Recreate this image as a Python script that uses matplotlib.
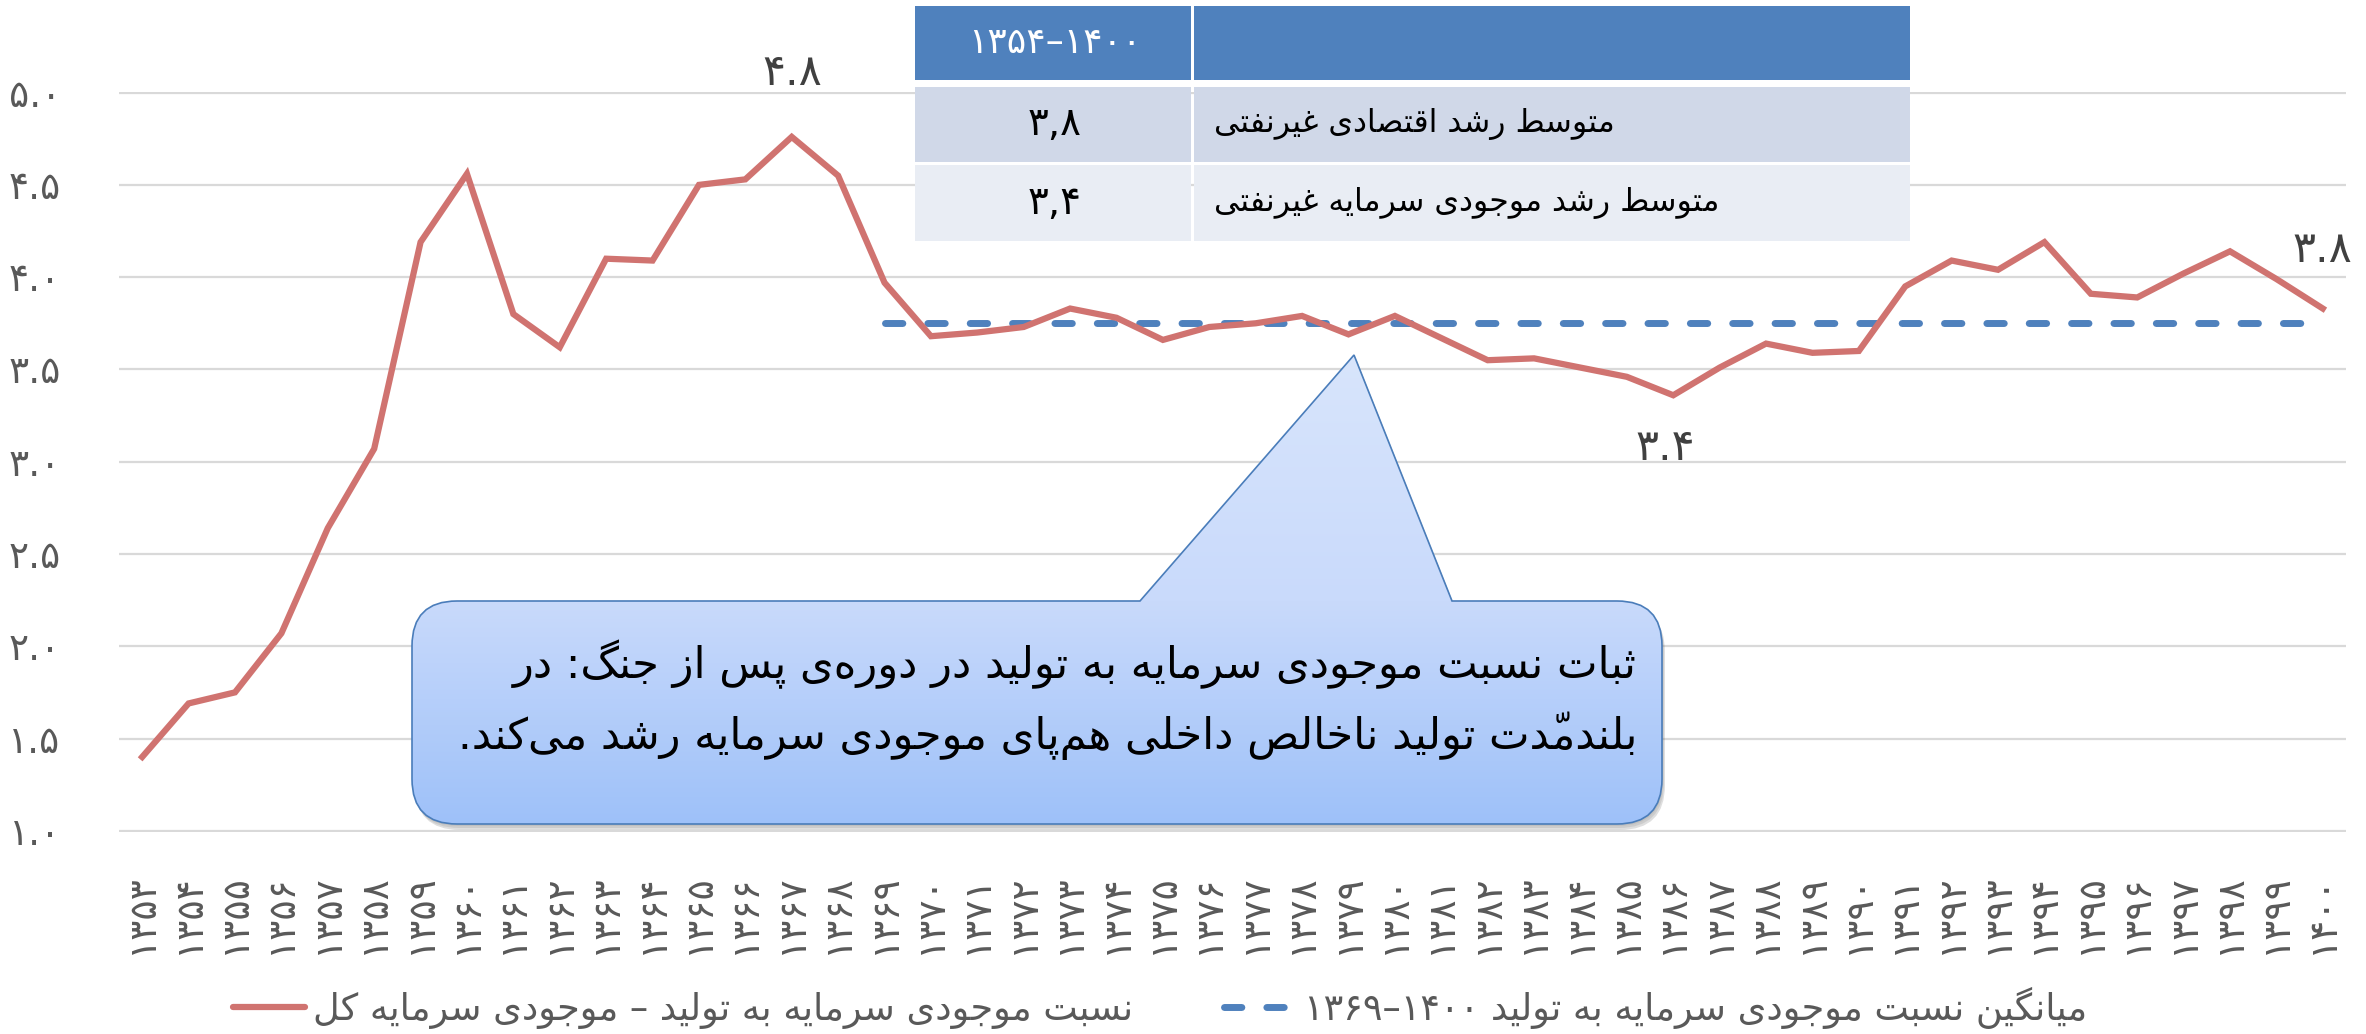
import numpy as np
import matplotlib
matplotlib.use("Agg")
import matplotlib.pyplot as plt
from matplotlib.path import Path
from matplotlib.patches import PathPatch, Rectangle
from matplotlib.lines import Line2D

plt.rcParams['font.family'] = ['DejaVu Sans']

# ---- data
years = list(range(1353, 1401))
ratio = [1.40, 1.69, 1.75, 2.07, 2.64, 3.07, 4.19, 4.56, 3.80, 3.62,
         4.10, 4.09, 4.50, 4.53, 4.76, 4.55, 3.97, 3.68, 3.70, 3.73,
         3.83, 3.78, 3.66, 3.73, 3.75, 3.79, 3.69, 3.79, 3.67, 3.55,
         3.56, 3.51, 3.46, 3.36, 3.51, 3.64, 3.59, 3.60, 3.95, 4.09,
         4.04, 4.19, 3.91, 3.89, 4.02, 4.14, 3.99, 3.83]
avg_from = 1369
avg_value = 3.75

label_ratio = "نسبت موجودی سرمایه به تولید – موجودی سرمایه کل"
label_avg = "میانگین نسبت موجودی سرمایه به تولید ۱۳۶۹–۱۴۰۰"

table_head = "۱۳۵۴–۱۴۰۰"
table_rows = ["متوسط رشد اقتصادی غیرنفتی", "متوسط رشد موجودی سرمایه غیرنفتی"]
table_vals = ["۳,۸", "۳,۴"]

callout = ["ثبات نسبت موجودی سرمایه به تولید در دوره‌ی پس از جنگ: در",
           "بلندمدّت تولید ناخالص داخلی هم‌پای موجودی سرمایه رشد می‌کند."]

RED = '#D07370'
BLUE = '#4F81BD'
GREY = '#595959'


# ---- minimal persian shaping (matplotlib has no RTL / joining support)
def _seq(b, n):
    return tuple(chr(b + k) for k in range(n))

FORMS = {
    'آ': _seq(0xFE81, 2), 'أ': _seq(0xFE83, 2), 'ؤ': _seq(0xFE85, 2), 'إ': _seq(0xFE87, 2),
    'ئ': _seq(0xFE89, 4), 'ا': _seq(0xFE8D, 2), 'ب': _seq(0xFE8F, 4), 'ة': _seq(0xFE93, 2),
    'ت': _seq(0xFE95, 4), 'ث': _seq(0xFE99, 4), 'ج': _seq(0xFE9D, 4), 'ح': _seq(0xFEA1, 4),
    'خ': _seq(0xFEA5, 4), 'د': _seq(0xFEA9, 2), 'ذ': _seq(0xFEAB, 2), 'ر': _seq(0xFEAD, 2),
    'ز': _seq(0xFEAF, 2), 'س': _seq(0xFEB1, 4), 'ش': _seq(0xFEB5, 4), 'ص': _seq(0xFEB9, 4),
    'ض': _seq(0xFEBD, 4), 'ط': _seq(0xFEC1, 4), 'ظ': _seq(0xFEC5, 4), 'ع': _seq(0xFEC9, 4),
    'غ': _seq(0xFECD, 4), 'ف': _seq(0xFED1, 4), 'ق': _seq(0xFED5, 4), 'ك': _seq(0xFED9, 4),
    'ل': _seq(0xFEDD, 4), 'م': _seq(0xFEE1, 4), 'ن': _seq(0xFEE5, 4), 'ه': _seq(0xFEE9, 4),
    'و': _seq(0xFEED, 2), 'ى': _seq(0xFEEF, 2), 'ي': _seq(0xFEF1, 4),
    'پ': _seq(0xFB56, 4), 'چ': _seq(0xFB7A, 4), 'ژ': _seq(0xFB8A, 2), 'ک': _seq(0xFB8E, 4),
    'گ': _seq(0xFB92, 4), 'ی': _seq(0xFBFC, 4),
}
LAMALEF = {'ا': _seq(0xFEFB, 2), 'آ': _seq(0xFEF5, 2), 'أ': _seq(0xFEF7, 2), 'إ': _seq(0xFEF9, 2)}
DIGITS = set('0123456789۰۱۲۳۴۵۶۷۸۹')
FA = str.maketrans('0123456789', '۰۱۲۳۴۵۶۷۸۹')


def _mark(c):
    return 0x064B <= ord(c) <= 0x0652 or ord(c) == 0x0670


def _jt(c):
    if c in FORMS:
        return 'D' if len(FORMS[c]) == 4 else 'R'
    return 'T' if _mark(c) else 'U'


def shape(text):
    ch = list(text)
    ty = [_jt(c) for c in ch]
    n = len(ch)
    out = []
    i = 0
    while i < n:
        c, t = ch[i], ty[i]
        if t in 'DR':
            p = i - 1
            while p >= 0 and ty[p] == 'T':
                p -= 1
            q = i + 1
            while q < n and ty[q] == 'T':
                q += 1
            prev_ok = p >= 0 and ty[p] == 'D'
            if c == 'ل' and q < n and ch[q] in LAMALEF:
                out.append(LAMALEF[ch[q]][1 if prev_ok else 0])
                i = q + 1
                continue
            next_ok = t == 'D' and q < n and ty[q] in 'DR'
            idx = (3 if next_ok else 1) if prev_ok else (2 if next_ok else 0)
            out.append(FORMS[c][idx])
        elif c != '\u200c':
            out.append(c)
        i += 1
    return ''.join(out)


def fa(text):
    s = shape(text)
    runs, cur, num = [], '', None
    for k, c in enumerate(s):
        isnum = c in DIGITS or (c in '.,-–' and 0 < k < len(s) - 1
                                and s[k - 1] in DIGITS and s[k + 1] in DIGITS)
        if num is None or isnum == num:
            cur += c
        else:
            runs.append((cur, num))
            cur = c
        num = isnum
    runs.append((cur, num))
    res = []
    for r, isnum in reversed(runs):
        if isnum:
            res.append(r)
        else:
            clusters = []
            for c in r:
                if _mark(c) and clusters:
                    clusters[-1] += c
                else:
                    clusters.append(c)
            res.append(''.join(reversed(clusters)))
    return ''.join(res)


# ---- figure
W, H = 2366, 1034
fig = plt.figure(figsize=(W / 100, H / 100), dpi=100)
renderer = fig.canvas.get_renderer()


def fit(s, width, size=20):
    t = fig.text(0, 0, s, fontsize=size)
    w = t.get_window_extent(renderer).width
    t.remove()
    return size * width / w


ax = fig.add_axes([119 / W, 1 - 831.7 / H, (2346 - 119) / W, 740 / H])
x = np.arange(len(years))
ax.plot(x, ratio, color=RED, lw=4.5, solid_joinstyle='miter', zorder=3, clip_on=False)
xa = [i for i, y in enumerate(years) if y >= avg_from]
ax.plot(xa, [avg_value] * len(xa), color=BLUE, lw=5, dashes=(2.5, 3.6),
        dash_capstyle='round', zorder=2)

ax.set_xlim(-0.5, len(years) - 0.5)
ax.set_ylim(0.995, 5.005)
yt = np.arange(1.0, 5.01, 0.5)
ax.set_yticks(yt)
ax.set_yticklabels([f"{v:.1f}".translate(FA) for v in yt], fontsize=27, color=GREY)
ax.set_xticks(x)
ax.set_xticklabels([str(y).translate(FA) for y in years], rotation=90, fontsize=27, color=GREY)
ax.tick_params(axis='y', length=0, pad=42)
ax.tick_params(axis='x', length=0, pad=30)
ax.yaxis.grid(True, color='#D9D9D9', lw=1.6)
ax.set_axisbelow(True)
for s in ax.spines.values():
    s.set_visible(False)

# data labels: overall peak, post-war low and last year
imax = int(np.argmax(ratio))
imin = xa[int(np.argmin([ratio[i] for i in xa]))]
ilast = len(ratio) - 1
for i, dy, dx in [(imax, 46, 0), (imin, -38, -6), (ilast, 42, 0)]:
    ax.annotate(f"{ratio[i]:.1f}".translate(FA), (x[i], ratio[i]), xytext=(dx, dy),
                textcoords='offset points', ha='center', va='center',
                fontsize=31, color='#404040', annotation_clip=False)

# legend
lfs = fit(fa(label_ratio), 821)
handles = [Line2D([], [], color=RED, lw=4.5, solid_capstyle='round'),
           Line2D([], [], color=BLUE, lw=5, dashes=(2.5, 3.6), dash_capstyle='round')]
leg = fig.legend(handles, [fa(label_ratio), fa(label_avg)], loc='center',
                 bbox_to_anchor=(1160 / W, 1 - 1008 / H), ncol=2, frameon=False,
                 fontsize=lfs, handlelength=51.8 / lfs, handletextpad=5.8 / lfs,
                 columnspacing=65.5 / lfs, labelcolor=GREY)

# ---- overlay in pixel coordinates for the table and the callout
ov = fig.add_axes([0, 0, 1, 1], zorder=5)
ov.axis('off')

# table
c1, c2, c3 = 915, 1194, 1910
rows_y = [(6, 80), (87, 162), (165, 241)]
fills = [BLUE, '#D0D8E8', '#E9EDF4']
for (y0, y1), fc in zip(rows_y, fills):
    ov.add_patch(Rectangle((c1, y0), c2 - 3 - c1, y1 - y0, fc=fc, ec='none'))
    ov.add_patch(Rectangle((c2, y0), c3 - c2, y1 - y0, fc=fc, ec='none'))
ov.text((c1 + c2) / 2, sum(rows_y[0]) / 2, fa(table_head), color='white', fontsize=26,
        ha='center', va='center')
tfs = fit(fa(table_rows[1]), 505)
for (y0, y1), lab, val in zip(rows_y[1:], table_rows, table_vals):
    ov.text((c1 + c2) / 2, (y0 + y1) / 2, fa(val), color='black', fontsize=28,
            ha='center', va='center')
    ov.text(c2 + 20, (y0 + y1) / 2, fa(lab), color='black', fontsize=tfs,
            ha='left', va='center')

# callout with pointer
L, R, T, B, rad = 412, 1662, 601, 824, 45
bx1, bx2, tipx, tipy = 1140, 1452, 1354, 355
verts = [(L + rad, T), (bx1, T), (tipx, tipy), (bx2, T), (R - rad, T),
         (R, T), (R, T + rad), (R, B - rad), (R, B), (R - rad, B),
         (L + rad, B), (L, B), (L, B - rad), (L, T + rad), (L, T), (L + rad, T),
         (L + rad, T)]
codes = [Path.MOVETO, Path.LINETO, Path.LINETO, Path.LINETO, Path.LINETO,
         Path.CURVE3, Path.CURVE3, Path.LINETO, Path.CURVE3, Path.CURVE3,
         Path.LINETO, Path.CURVE3, Path.CURVE3, Path.LINETO, Path.CURVE3, Path.CURVE3,
         Path.CLOSEPOLY]
path = Path(verts, codes)
for k, a in enumerate([0.10, 0.14, 0.2]):
    sh = Path(np.array(verts) + [1 + k, 2 + 2 * k], codes)
    ov.add_patch(PathPatch(sh, fc='#606060', ec='none', alpha=a, zorder=1))
body = PathPatch(path, fc='none', ec='#4A7DBA', lw=1.2, zorder=3)
ov.add_patch(body)
ys = np.linspace(tipy, B, 300)
grad = np.stack([np.interp(ys, [tipy, T, B], cc) for cc in
                 ([216, 201, 158], [229, 218, 193], [252, 251, 249])], axis=1) / 255
im = ov.imshow(grad[:, None, :], extent=(L, R, B, tipy), aspect='auto',
               interpolation='bilinear', zorder=2)
im.set_clip_path(body)

cfs = fit(fa(callout[1]), 1180)
ov.text(1637, 664, fa(callout[0]), fontsize=cfs, color='black', ha='right', va='center', zorder=4)
ov.text(1637, 736, fa(callout[1]), fontsize=cfs, color='black', ha='right', va='center', zorder=4)

ov.set_xlim(0, W)
ov.set_ylim(H, 0)

fig.savefig('out.png', dpi=100)
